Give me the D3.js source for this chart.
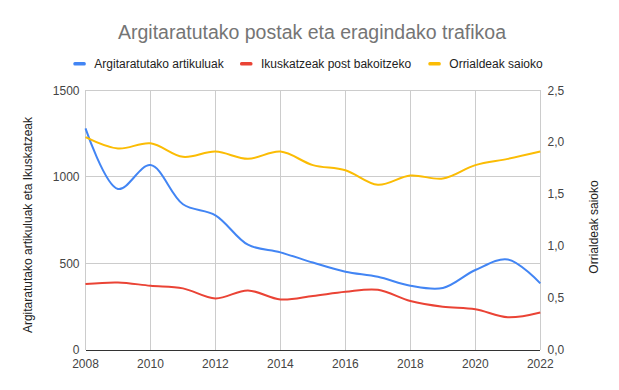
<!DOCTYPE html>
<html><head><meta charset="utf-8">
<script src="https://cdn.jsdelivr.net/npm/d3@7"></script>
<style>body{margin:0;background:#fff;} text{font-family:"Liberation Sans",Arial,sans-serif;}</style>
</head><body><svg id="c" width="619" height="390"></svg>
<script>
const years = [2008,2009,2010,2011,2012,2013,2014,2015,2016,2017,2018,2019,2020,2021,2022];
const articles = [1280,930,1068,842,778,608,564,505,452,423,371,358,462,523,385];
const viewsPerPost = [381,390,371,356,298,344,292,312,336,348,283,250,235,189,217];
const pagesPerSession = [2.05,1.94,1.99,1.86,1.91,1.84,1.91,1.78,1.73,1.59,1.68,1.65,1.78,1.84,1.91];
const xTicks = [2008,2010,2012,2014,2016,2018,2020,2022];
const leftTicks = [0,500,1000,1500];
const rightTicks = [0,0.5,1,1.5,2,2.5];
const title = "Argitaratutako postak eta eragindako trafikoa";
const seriesNames = ["Argitaratutako artikuluak","Ikuskatzeak post bakoitzeko","Orrialdeak saioko"];
const colors = ["#4285F4","#EA4335","#FBBC04"];

const svg = d3.select("#c");
const L=85.5, R=540.3, T=90.3, B=350;
const x = d3.scaleLinear().domain([2008,2022]).range([L,R]);
const yL = d3.scaleLinear().domain([0,1500]).range([B,T]);
const yR = d3.scaleLinear().domain([0,2.5]).range([B,T]);

const g = svg.append("g");
g.selectAll(".hg").data(leftTicks.filter(d=>d>0)).join("line")
  .attr("x1",L).attr("x2",R).attr("y1",d=>yL(d)).attr("y2",d=>yL(d))
  .attr("stroke","#cccccc").attr("stroke-width",1).attr("shape-rendering","crispEdges");
g.selectAll(".vg").data(xTicks).join("line")
  .attr("x1",d=>x(d)).attr("x2",d=>x(d)).attr("y1",T).attr("y2",B)
  .attr("stroke","#cccccc").attr("stroke-width",1).attr("shape-rendering","crispEdges");

const curve = d3.curveCatmullRom.alpha(0.5);
const mk = (scale, vals) => d3.line().x((d,i)=>x(years[i])).y(d=>scale(d)).curve(curve)(vals);
[[yL,articles,0],[yL,viewsPerPost,1],[yR,pagesPerSession,2]].forEach(([s,v,i])=>{
  svg.append("path").attr("d",mk(s,v)).attr("fill","none").attr("stroke",colors[i]).attr("stroke-width",2);
});

svg.append("line").attr("x1",L).attr("x2",R).attr("y1",B).attr("y2",B)
  .attr("stroke","#333333").attr("stroke-width",1).attr("shape-rendering","crispEdges");

const lab = svg.append("g").attr("font-size",12);
lab.selectAll(".lt").data(leftTicks).join("text").attr("x",79.5).attr("y",d=>yL(d)).attr("dy","0.35em")
  .attr("text-anchor","end").attr("fill","#444").text(d=>d);
lab.selectAll(".rt").data(rightTicks).join("text").attr("x",547.5).attr("y",d=>yR(d)).attr("dy","0.35em")
  .attr("text-anchor","start").attr("fill","#444").text(d=>d3.format(".1f")(d).replace(".",","));
lab.selectAll(".xt").data(xTicks).join("text").attr("x",d=>x(d)).attr("y",368)
  .attr("text-anchor","middle").attr("fill","#444").text(d=>d);

svg.append("text").attr("transform","translate(32,225) rotate(-90)").attr("text-anchor","middle")
  .attr("font-size",12).attr("fill","#222").text("Argitaratutako artikuluak eta Ikuskatzeak");
svg.append("text").attr("transform","translate(598,227) rotate(-90)").attr("text-anchor","middle")
  .attr("font-size",12).attr("fill","#222").text("Orrialdeak saioko");

svg.append("text").attr("x",312).attr("y",38.5).attr("text-anchor","middle")
  .attr("font-size",19.5).attr("fill","#757575").text(title);

const legX = [73.3,240,428.3];
const leg = svg.append("g");
seriesNames.forEach((n,i)=>{
  leg.append("rect").attr("x",legX[i]).attr("y",62).attr("width",12.5).attr("height",3.5).attr("rx",1.5)
    .attr("fill",colors[i]);
  leg.append("text").attr("x",legX[i]+21).attr("y",68).attr("font-size",12).attr("fill","#222").text(n);
});
</script></body></html>
